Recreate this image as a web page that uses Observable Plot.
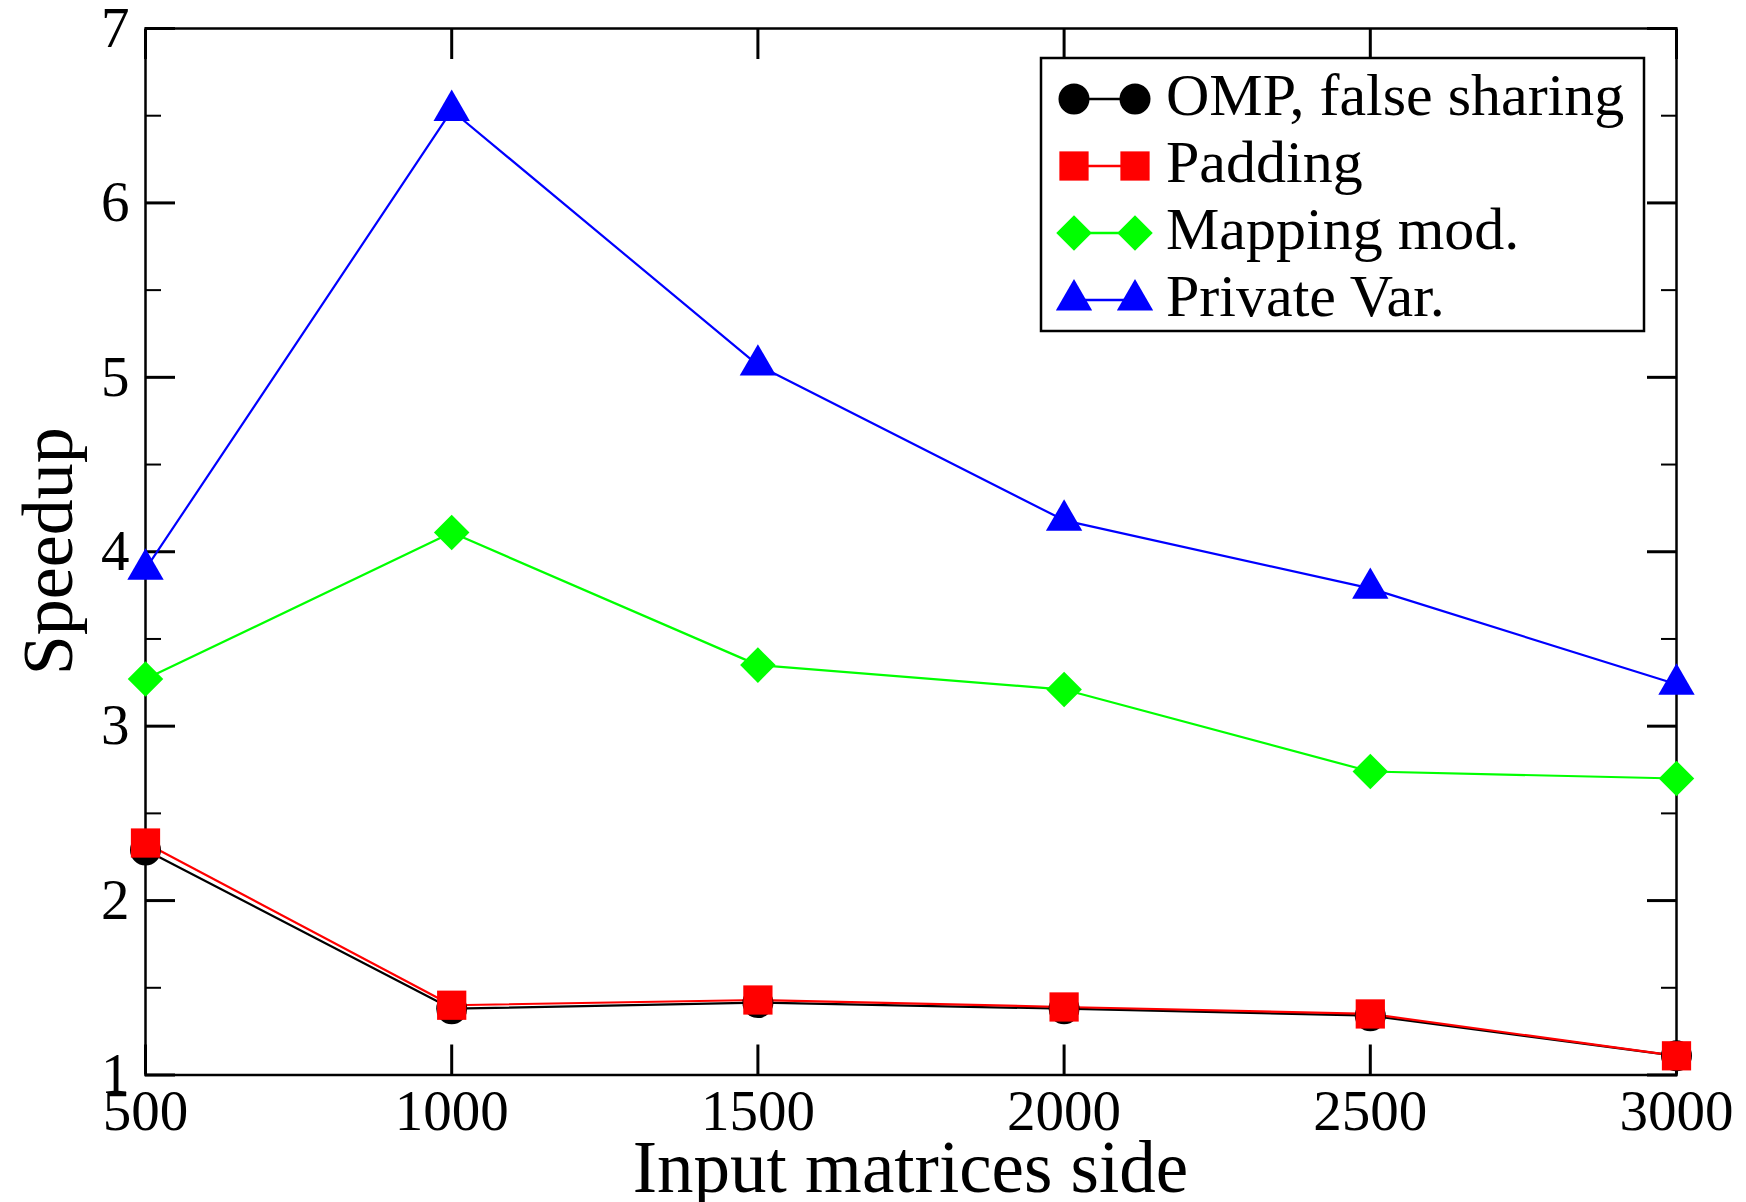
<!DOCTYPE html>
<html><head><meta charset="utf-8">
<script src="https://cdn.jsdelivr.net/npm/d3@7"></script>
<script src="https://cdn.jsdelivr.net/npm/@observablehq/plot@0.6"></script>
<style>body{margin:0;background:#fff}</style>
</head><body><div id="chart"></div>
<script>
const sizes = [500, 1000, 1500, 2000, 2500, 3000];
const ompFalseSharing = [2.29, 1.38, 1.415, 1.38, 1.34, 1.11];
const padding = [2.33, 1.40, 1.43, 1.39, 1.35, 1.11];
const mappingMod = [3.27, 4.11, 3.35, 3.21, 2.74, 2.70];
const privateVar = [3.90, 6.53, 5.07, 4.18, 3.79, 3.24];
const seriesNames = ["OMP, false sharing", "Padding", "Mapping mod.", "Private Var."];
const seriesValues = [ompFalseSharing, padding, mappingMod, privateVar];
const seriesColors = ["#000000", "#ff0000", "#00ff00", "#0000ff"];
const seriesSymbols = ["circle", "square", "diamond2", "triangle"];
const seriesRadius = [15.5, 16.5, 16, 13.5];
const xTicks = [500, 1000, 1500, 2000, 2500, 3000];
const yTicks = [1, 2, 3, 4, 5, 6, 7];
const yMinorTicks = [1.5, 2.5, 3.5, 4.5, 5.5, 6.5];
const xTitle = "Input matrices side";
const yTitle = "Speedup";

const W = 1746, H = 1202;
const mL = 145, mR = 70, mT = 28, mB = 127.5;
const FONT = "'Liberation Serif', 'Times New Roman', serif";

const marks = [];
// ticks (inward)
marks.push(Plot.axisX(xTicks, {anchor: "bottom", tickSize: -30, strokeWidth: 3, tickFormat: () => ""}));
marks.push(Plot.axisX(xTicks, {anchor: "top", tickSize: -30, strokeWidth: 3, tickFormat: () => ""}));
marks.push(Plot.axisY(yTicks, {anchor: "left", tickSize: -30, strokeWidth: 3, tickFormat: () => ""}));
marks.push(Plot.axisY(yTicks, {anchor: "right", tickSize: -30, strokeWidth: 3, tickFormat: () => ""}));
marks.push(Plot.axisY(yMinorTicks, {anchor: "left", tickSize: -16, strokeWidth: 2, tickFormat: () => ""}));
marks.push(Plot.axisY(yMinorTicks, {anchor: "right", tickSize: -16, strokeWidth: 2, tickFormat: () => ""}));
// tick labels
marks.push(Plot.axisX(xTicks, {anchor: "bottom", tickSize: 0, tickPadding: 15, fontSize: 57, tickFormat: d => String(d), fill: "#000", label: null}));
marks.push(Plot.axisY(yTicks, {anchor: "left", tickSize: 0, tickPadding: 16, fontSize: 57, tickFormat: d => String(d), fill: "#000", label: null}));
marks.push(Plot.frame({stroke: "#000", strokeWidth: 2.5}));
// series
seriesValues.forEach((vals, s) => {
  marks.push(Plot.line(sizes, {x: d => d, y: (d, i) => vals[i], stroke: seriesColors[s], strokeWidth: 2.2}));
});
seriesValues.forEach((vals, s) => {
  marks.push(Plot.dot(sizes, {x: d => d, y: (d, i) => vals[i], fill: seriesColors[s], stroke: "none", symbol: seriesSymbols[s], r: seriesRadius[s]}));
});

const chart = Plot.plot({
  width: W, height: H,
  marginLeft: mL, marginRight: mR, marginTop: mT, marginBottom: mB,
  style: {fontFamily: FONT, background: "#fff", color: "#000"},
  x: {domain: [500, 3000]},
  y: {domain: [1, 7]},
  marks
});
document.getElementById("chart").appendChild(chart);

const svg = d3.select(chart);
// axis titles
svg.append("text").attr("x", (mL + W - mR) / 2).attr("y", 1192)
  .attr("text-anchor", "middle").attr("font-size", 73).attr("font-family", FONT).attr("fill", "#000").text(xTitle);
svg.append("text").attr("transform", `translate(72,${(mT + H - mB) / 2}) rotate(-90)`)
  .attr("text-anchor", "middle").attr("font-size", 72).attr("font-family", FONT).attr("fill", "#000").text(yTitle);

// legend inside the plot area
const lg = svg.append("g").attr("class", "legend");
const box = {x: 1041, y: 58, w: 603, h: 273};
lg.append("rect").attr("x", box.x).attr("y", box.y).attr("width", box.w).attr("height", box.h)
  .attr("fill", "#fff").attr("stroke", "#000").attr("stroke-width", 2.5);
const symMap = {circle: d3.symbolCircle, square: d3.symbolSquare, diamond2: d3.symbolDiamond2, triangle: d3.symbolTriangle};
const rowY = [99, 166, 233, 300];
seriesNames.forEach((name, s) => {
  const cy = rowY[s];
  lg.append("line").attr("x1", 1074).attr("x2", 1135).attr("y1", cy).attr("y2", cy)
    .attr("stroke", seriesColors[s]).attr("stroke-width", 2.5);
  const path = d3.symbol(symMap[seriesSymbols[s]], Math.PI * seriesRadius[s] ** 2)();
  [1074, 1135].forEach(cx => {
    lg.append("path").attr("d", path).attr("transform", `translate(${cx},${cy})`).attr("fill", seriesColors[s]);
  });
  lg.append("text").attr("x", 1166).attr("y", cy + 16).attr("text-anchor", "start").attr("font-size", 60).attr("fill", "#000")
    .attr("font-family", FONT).text(name);
});
</script></body></html>
